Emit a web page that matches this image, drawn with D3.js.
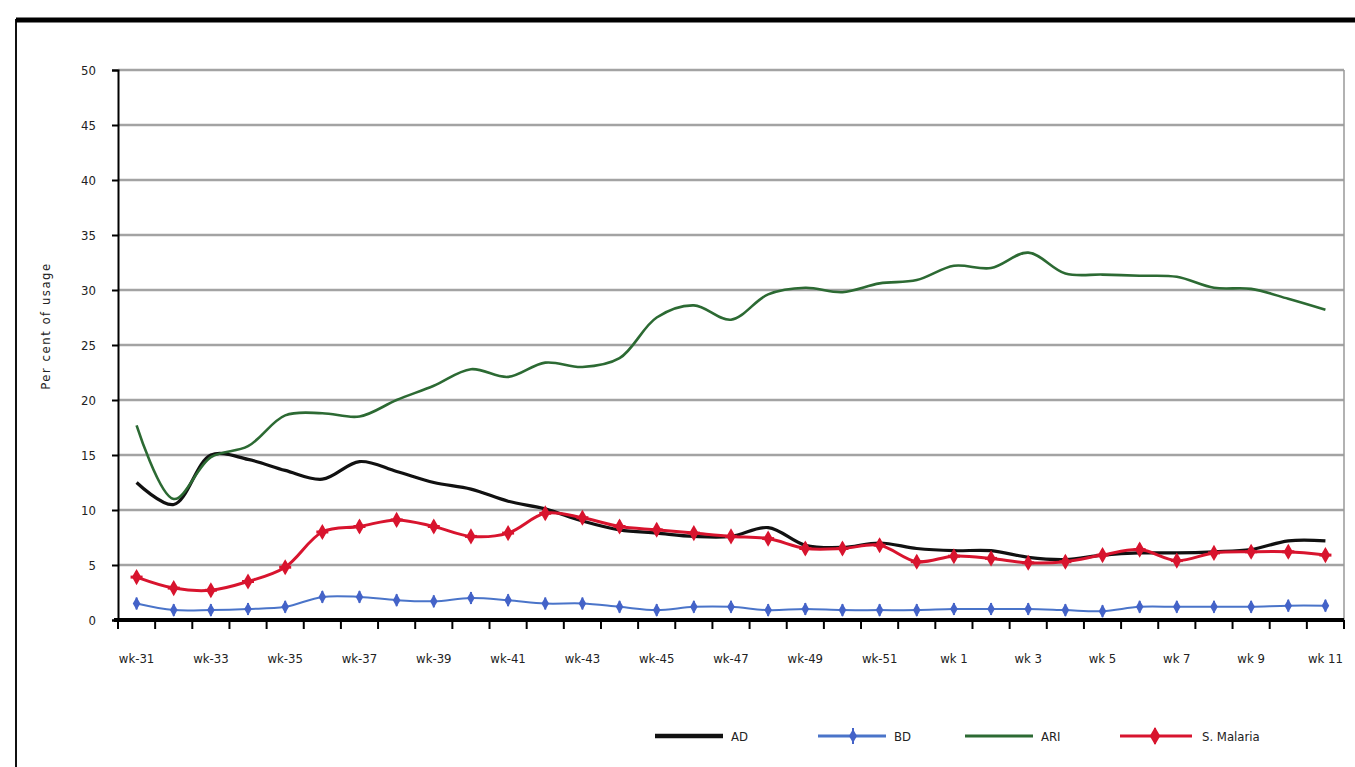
<!DOCTYPE html>
<html lang="en">
<head>
  <meta charset="UTF-8">
  <title>Weekly trend</title>
  <style>
    body { margin: 0; background: #fff; }
    text { font-family: "Liberation Sans Narrow", "DejaVu Sans Condensed", "Liberation Sans", Arial, sans-serif; fill: #222; }
  </style>
</head>
<body>
  <div id="chart"></div>
  <script src="https://d3js.org/d3.v7.min.js"></script>
  <script>
    const weeks = ['wk-31', 'wk-32', 'wk-33', 'wk-34', 'wk-35', 'wk-36', 'wk-37', 'wk-38', 'wk-39', 'wk-40',
      'wk-41', 'wk-42', 'wk-43', 'wk-44', 'wk-45', 'wk-46', 'wk-47', 'wk-48', 'wk-49', 'wk-50', 'wk-51', 'wk-52',
      'wk 1', 'wk 2', 'wk 3', 'wk 4', 'wk 5', 'wk 6', 'wk 7', 'wk 8', 'wk 9', 'wk 10', 'wk 11']
    const adValues = [12.5, 10.5, 15.0, 14.6, 13.6, 12.8, 14.4, 13.5, 12.5, 11.9, 10.8, 10.1, 9.0, 8.2, 7.9, 7.6, 7.6,
      8.4, 6.8, 6.6, 7.0, 6.5, 6.3, 6.3, 5.7, 5.5, 5.9, 6.1, 6.1, 6.2, 6.4, 7.2, 7.2]
    const bdValues = [1.5, 0.9, 0.9, 1.0, 1.2, 2.1, 2.1, 1.8, 1.7, 2.0, 1.8, 1.5, 1.5, 1.2, 0.9, 1.2, 1.2,
      0.9, 1.0, 0.9, 0.9, 0.9, 1.0, 1.0, 1.0, 0.9, 0.8, 1.2, 1.2, 1.2, 1.2, 1.3, 1.3]
    const ariValues = [17.7, 11.0, 14.8, 15.8, 18.6, 18.8, 18.5, 20.0, 21.3, 22.8, 22.1, 23.4, 23.0, 23.8, 27.5, 28.6, 27.3,
      29.6, 30.2, 29.8, 30.6, 30.9, 32.2, 32.0, 33.4, 31.5, 31.4, 31.3, 31.2, 30.2, 30.1, 29.2, 28.2]
    const malariaValues = [3.9, 2.9, 2.7, 3.5, 4.8, 8.0, 8.5, 9.1, 8.5, 7.6, 7.9, 9.7, 9.3, 8.5, 8.2, 7.9, 7.6,
      7.4, 6.5, 6.5, 6.8, 5.3, 5.8, 5.6, 5.2, 5.3, 5.9, 6.4, 5.4, 6.1, 6.2, 6.2, 5.9]
    const yTicks = [0, 5, 10, 15, 20, 25, 30, 35, 40, 45, 50]
    const xLabels = ['wk-31', 'wk-33', 'wk-35', 'wk-37', 'wk-39', 'wk-41', 'wk-43', 'wk-45', 'wk-47', 'wk-49', 'wk-51',
      'wk 1', 'wk 3', 'wk 5', 'wk 7', 'wk 9', 'wk 11']

    const width = 1355
    const height = 767
    const plot = { left: 118, right: 1344, top: 70, bottom: 620 }

    const svg = d3.select('#chart').append('svg').attr('width', width).attr('height', height)

    // outer frame
    svg.append('rect').attr('x', 16).attr('y', 20).attr('width', width + 10).attr('height', height)
      .attr('fill', 'none').attr('stroke', '#111').attr('stroke-width', 2)
    svg.append('line').attr('x1', 16).attr('x2', width).attr('y1', 20).attr('y2', 20)
      .attr('stroke', '#000').attr('stroke-width', 5)

    const xScale = d3.scaleBand().domain(weeks).range([plot.left, plot.right])
    const yScale = d3.scaleLinear().domain([0, 50]).range([plot.bottom, plot.top])
    const cx = d => xScale(d) + xScale.bandwidth() / 2

    // gridlines
    svg.append('g').selectAll('line').data(yTicks.filter(d => d > 0)).enter().append('line')
      .attr('x1', plot.left).attr('x2', plot.right)
      .attr('y1', d => yScale(d)).attr('y2', d => yScale(d))
      .attr('stroke', '#a3a3a3').attr('stroke-width', 2.5)
    svg.append('line').attr('x1', plot.right).attr('x2', plot.right).attr('y1', plot.top).attr('y2', plot.bottom)
      .attr('stroke', '#999').attr('stroke-width', 1.5)

    // y axis
    const yAxis = d3.axisLeft(yScale).tickValues(yTicks).tickSize(6).tickPadding(16)
    const gY = svg.append('g').attr('transform', `translate(${plot.left},0)`).call(yAxis)
    gY.select('.domain').attr('stroke', '#000').attr('stroke-width', 2)
    gY.selectAll('.tick line').attr('stroke', '#000').attr('stroke-width', 2)
    gY.selectAll('text').attr('font-size', 13).attr('fill', '#222')

    svg.append('text').attr('transform', 'translate(50,326) rotate(-90)')
      .attr('text-anchor', 'middle').attr('font-size', 13).attr('letter-spacing', 1.5).text('Per cent of usage')

    // x axis
    const xAxis = d3.axisBottom(xScale).tickValues(xLabels).tickSize(0).tickPadding(34)
    const gX = svg.append('g').attr('transform', `translate(0,${plot.bottom})`).call(xAxis)
    gX.select('.domain').remove()
    gX.selectAll('text').attr('font-size', 13).attr('fill', '#222')
    svg.append('g').selectAll('line').data(weeks.concat(['end'])).enter().append('line')
      .attr('x1', (d, i) => plot.left + i * xScale.bandwidth())
      .attr('x2', (d, i) => plot.left + i * xScale.bandwidth())
      .attr('y1', plot.bottom).attr('y2', plot.bottom + 9)
      .attr('stroke', '#000').attr('stroke-width', 2)
    svg.append('line').attr('x1', plot.left - 4).attr('x2', plot.right)
      .attr('y1', plot.bottom).attr('y2', plot.bottom)
      .attr('stroke', '#000').attr('stroke-width', 4)

    const series = [
      { name: 'AD', values: adValues, color: '#111', width: 3.2, marker: null },
      { name: 'BD', values: bdValues, color: '#4a74c9', width: 2, marker: '#4463c8' },
      { name: 'ARI', values: ariValues, color: '#2c6a33', width: 2.6, marker: null },
      { name: 'S. Malaria', values: malariaValues, color: '#d8142e', width: 3, marker: '#d8142e' }
    ]

    const line = d3.line().x((d, i) => cx(weeks[i])).y(d => yScale(d)).curve(d3.curveCatmullRom.alpha(0.5))

    series.forEach(s => {
      svg.append('path').datum(s.values).attr('d', line)
        .attr('fill', 'none').attr('stroke', s.color).attr('stroke-width', s.width)
        .attr('stroke-linejoin', 'round')
      if (s.marker) {
        const big = s.name !== 'BD'
        const sym = d3.symbol().type(d3.symbolDiamond).size(big ? 75 : 50)
        svg.append('g').selectAll('path').data(s.values).enter().append('path')
          .attr('transform', (d, i) => `translate(${cx(weeks[i])},${yScale(d)})`)
          .attr('d', sym).attr('fill', s.marker)
        svg.append('g').selectAll('line').data(s.values).enter().append('line')
          .attr('x1', (d, i) => cx(weeks[i])).attr('x2', (d, i) => cx(weeks[i]))
          .attr('y1', d => yScale(d) - 6).attr('y2', d => yScale(d) + 6)
          .attr('stroke', s.marker).attr('stroke-width', 2)
        if (big) {
          svg.append('g').selectAll('line').data(s.values).enter().append('line')
            .attr('x1', (d, i) => cx(weeks[i]) - 6).attr('x2', (d, i) => cx(weeks[i]) + 6)
            .attr('y1', d => yScale(d)).attr('y2', d => yScale(d))
            .attr('stroke', s.marker).attr('stroke-width', 3)
        }
      }
    })

    // legend
    const legendX = [655, 818, 965, 1120]
    const legend = svg.append('g').selectAll('g').data(series).enter().append('g')
      .attr('transform', (d, i) => `translate(${legendX[i]},736)`)
    legend.append('line').attr('x1', 0).attr('x2', d => d.name === 'S. Malaria' ? 72 : 68).attr('y1', 0).attr('y2', 0)
      .attr('stroke', d => d.color).attr('stroke-width', d => d.name === 'AD' ? 4.5 : 3)
    legend.filter(d => d.marker).append('path')
      .attr('transform', 'translate(35,0)')
      .attr('d', d => d3.symbol().type(d3.symbolDiamond).size(d.name === 'BD' ? 55 : 95)())
      .attr('fill', d => d.marker)
    legend.filter(d => d.marker).append('line')
      .attr('x1', 35).attr('x2', 35).attr('y1', -8).attr('y2', 8)
      .attr('stroke', d => d.marker).attr('stroke-width', 2)
    legend.append('text').attr('x', d => d.name === 'S. Malaria' ? 82 : 76).attr('y', 5)
      .attr('font-size', 13).text(d => d.name)
  </script>
</body>
</html>
